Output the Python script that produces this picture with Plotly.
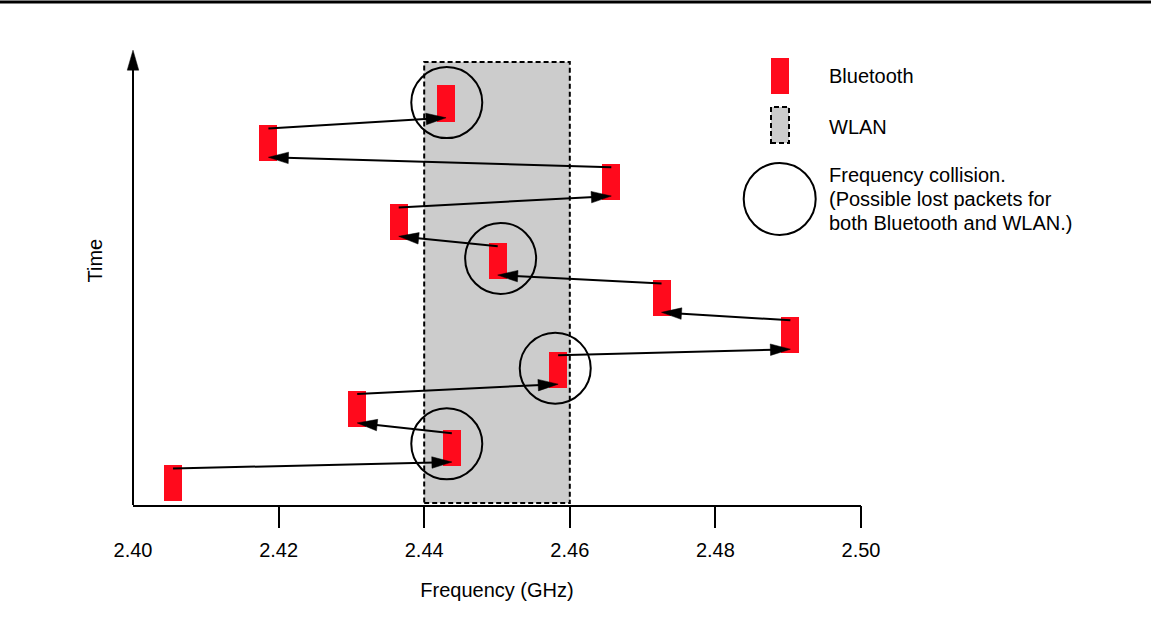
import math
import plotly.graph_objects as go

# ---------------- data ----------------
bt_freq = [2.4055, 2.4438, 2.4308, 2.4584, 2.4903, 2.4726, 2.4501, 2.4365, 2.4657, 2.4186, 2.4430]
bt_start = [0.10, 1.03, 2.06, 3.08, 4.00, 4.97, 5.95, 6.97, 8.03, 9.05, 10.09]
bt_duration = 0.95
wlan_band = [2.44, 2.46]
wlan_time = [0.05, 11.66]
collision_freq = [2.4431, 2.4580, 2.4505, 2.4431]
collision_time = [1.61, 3.60, 6.49, 10.59]
x_ticks = [2.40, 2.42, 2.44, 2.46, 2.48, 2.50]
x_ticktext = ["2.40", "2.42", "2.44", "2.46", "2.48", "2.50"]
time_range = [0, 12]
time_axis_top = 11.97
legend_labels = ["Bluetooth", "WLAN"]
collision_text = ["Frequency collision.", "(Possible lost packets for", "both Bluetooth and WLAN.)"]

# ---------------- styling / layout ----------------
W, H = 1151, 617
ML, MR, MT, MB = 133, 290, 49, 112
PW, PH = W - ML - MR, H - MT - MB
FONT = "Liberation Sans, Arial, Helvetica, sans-serif"
RED = "#ff0a1c"
GRAY = "#cccccc"
BT_WIDTH = 0.00247
HEAD_LEN = 20.0   # px
HEAD_WID = 11.5   # px

SX = PW / (x_ticks[-1] - x_ticks[0])      # px per GHz
SY = PH / (time_range[1] - time_range[0])  # px per time unit


def px(xp):
    return (xp - ML) / PW


def py(yp):
    return (H - MB - yp) / PH


def arrow_parts(x0, y0, x1, y1):
    """Return line end (head base) and head polygon in data coords."""
    dx, dy = (x1 - x0) * SX, (y1 - y0) * SY
    d = math.hypot(dx, dy)
    ux, uy = dx / d, dy / d
    nx, ny = -uy, ux
    bx, by = x1 - HEAD_LEN * ux / SX, y1 - HEAD_LEN * uy / SY
    hw = HEAD_WID / 2
    poly_x = [x1, bx + hw * nx / SX, bx - hw * nx / SX, x1]
    poly_y = [y1, by + hw * ny / SY, by - hw * ny / SY, y1]
    return (bx + 3 * ux / SX, by + 3 * uy / SY), poly_x, poly_y


def add_arrow(fig, x0, y0, x1, y1):
    (ex, ey), hx, hy = arrow_parts(x0, y0, x1, y1)
    fig.add_trace(go.Scatter(x=[x0, ex], y=[y0, ey], mode="lines",
                             line=dict(color="black", width=2),
                             showlegend=False, hoverinfo="skip"))
    fig.add_trace(go.Scatter(x=hx, y=hy, mode="lines", fill="toself", fillcolor="black",
                             line=dict(color="black", width=0.5),
                             showlegend=False, hoverinfo="skip"))


fig = go.Figure()

# Bluetooth packets
fig.add_trace(go.Bar(
    x=bt_freq, y=[bt_duration] * len(bt_freq), base=bt_start, width=BT_WIDTH,
    marker=dict(color=RED, line=dict(width=0)), showlegend=False, hoverinfo="skip",
))

# hop arrows
for i in range(len(bt_freq) - 1):
    add_arrow(fig,
              bt_freq[i], bt_start[i] + bt_duration - 0.09,
              bt_freq[i + 1], bt_start[i + 1] + 0.10)

# collision circles
fig.add_trace(go.Scatter(
    x=collision_freq, y=collision_time, mode="markers",
    marker=dict(symbol="circle-open", size=71, color="black", line=dict(width=2)),
    showlegend=False, hoverinfo="skip",
))

# dummy trace for tick-mark axis
fig.add_trace(go.Scatter(x=[x_ticks[0], x_ticks[-1]], y=[0, 0], xaxis="x2", mode="none",
                         showlegend=False, hoverinfo="skip"))

# time axis (paper coords so it is not clipped)
t_tip = time_axis_top / (time_range[1] - time_range[0])
t_base = t_tip - HEAD_LEN / PH
hwp = (HEAD_WID / 2) / PW
time_axis_path = "M {:.5f},{:.5f} L {:.5f},{:.5f} L {:.5f},{:.5f} Z".format(
    0, t_tip, -hwp, t_base, hwp, t_base)

shapes = [
    # WLAN band
    dict(type="rect", xref="x", yref="y", x0=wlan_band[0], x1=wlan_band[1],
         y0=wlan_time[0], y1=wlan_time[1], fillcolor=GRAY,
         line=dict(color="black", width=2, dash="5px,3px"), layer="below"),
    # time axis line and head
    dict(type="line", xref="paper", yref="paper", x0=0, x1=0, y0=0, y1=t_base + 3 / PH,
         line=dict(color="black", width=2)),
    dict(type="path", xref="paper", yref="paper", path=time_axis_path,
         fillcolor="black", line=dict(color="black", width=0.5)),
    # top rule
    dict(type="line", xref="paper", yref="paper", x0=px(0), x1=px(W), y0=py(2), y1=py(2),
         line=dict(color="black", width=3)),
    # legend: bluetooth
    dict(type="rect", xref="paper", yref="paper", x0=px(771), x1=px(789), y0=py(94), y1=py(58),
         fillcolor=RED, line=dict(width=0)),
    # legend: wlan
    dict(type="rect", xref="paper", yref="paper", x0=px(771), x1=px(789), y0=py(143), y1=py(107),
         fillcolor=GRAY, line=dict(color="black", width=2, dash="5px,3px")),
    # legend: collision circle
    dict(type="circle", xref="paper", yref="paper", x0=px(743.7), x1=px(815.7), y0=py(235), y1=py(163),
         line=dict(color="black", width=2)),
]

annotations = [
    dict(text="Time", xref="paper", yref="paper", x=px(94), y=py(260.5), textangle=-90,
         showarrow=False, font=dict(size=20, color="black", family=FONT),
         xanchor="center", yanchor="middle"),
    dict(text=legend_labels[0], xref="paper", yref="paper", x=px(827), y=py(76),
         showarrow=False, xanchor="left", yanchor="middle", font=dict(size=20, color="black", family=FONT)),
    dict(text=legend_labels[1], xref="paper", yref="paper", x=px(827), y=py(127),
         showarrow=False, xanchor="left", yanchor="middle", font=dict(size=20, color="black", family=FONT)),
]
for t, yy in zip(collision_text, [175, 199, 223]):
    annotations.append(dict(text=t, xref="paper", yref="paper", x=px(827), y=py(yy),
                            showarrow=False, xanchor="left", yanchor="middle",
                            font=dict(size=20, color="black", family=FONT)))

fig.update_layout(
    width=W, height=H,
    margin=dict(l=ML, r=MR, t=MT, b=MB, pad=0),
    paper_bgcolor="white", plot_bgcolor="white",
    font=dict(family=FONT, size=20, color="black"),
    hovermode=False,
    bargap=0,
    xaxis=dict(
        range=[x_ticks[0], x_ticks[-1]], tickvals=x_ticks, ticktext=x_ticktext,
        ticks="outside", ticklen=22, tickcolor="rgba(0,0,0,0)", tickwidth=2,
        ticklabelstandoff=4,
        showline=True, linecolor="black", linewidth=2, showgrid=False, zeroline=False,
        tickfont=dict(size=20, color="black", family=FONT),
        title=dict(text="Frequency (GHz)", font=dict(size=20, color="black", family=FONT), standoff=23),
        fixedrange=True,
    ),
    xaxis2=dict(
        range=[x_ticks[0], x_ticks[-1]], overlaying="x", anchor="y", side="bottom",
        tickvals=x_ticks[1:], ticks="outside", ticklen=22, tickwidth=2, tickcolor="black",
        showticklabels=False, showline=False, showgrid=False, zeroline=False, fixedrange=True,
    ),
    yaxis=dict(range=time_range, visible=False, fixedrange=True),
    shapes=shapes,
    annotations=annotations,
)

fig.write_html("out.html", config={"displayModeBar": False},
               post_script="document.body.style.margin='0px';document.body.style.padding='0px';")
